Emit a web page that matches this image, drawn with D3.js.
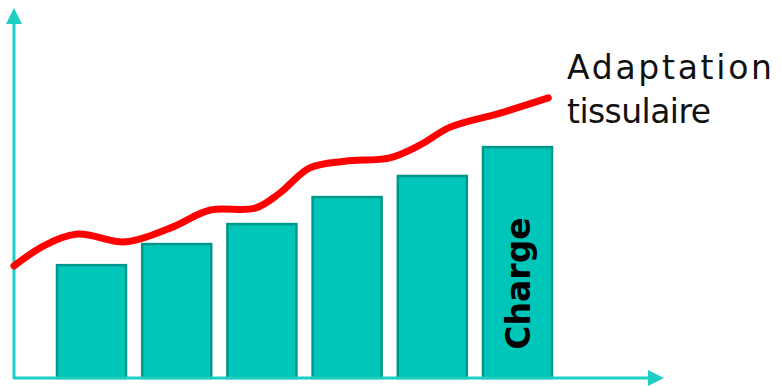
<!DOCTYPE html>
<html>
<head>
<meta charset="utf-8">
<script src="https://cdn.jsdelivr.net/npm/d3@7"></script>
<style>
  body { margin: 0; background: #fff; }
  svg { display: block; }
</style>
</head>
<body>
<div id="chart"></div>
<script>
// bar heights (relative units, 0 = x axis, 100 = top of y axis)
const categories = ['1', '2', '3', '4', '5', '6'];
const charge = [30.5, 36.2, 41.6, 48.9, 54.6, 62.4];

// tissue adaptation curve: x in 0..100 along the x axis, y in same units as bars
const adaptX = [0, 4.8, 9.8, 17.1, 24, 30.2, 37.1, 40.9, 45.5, 50.9, 57.8, 62.5, 67.1, 74.8, 82.2];
const adaptY = [30.3, 35.9, 38.9, 36.8, 40.5, 45.4, 45.9, 50, 56.8, 58.6, 59.5, 63, 67.8, 71.6, 75.7];

const labelLines = ['Adaptation', 'tissulaire'];
const labelWidths = [205, 144];
const barLabel = 'Charge';

const width = 782;
const height = 386;
const axisColor = '#1dcfc3';

const svg = d3.select('#chart')
    .append('svg')
    .attr('width', width)
    .attr('height', height);

const x = d3.scaleBand()
    .domain(categories)
    .range([57, 552])
    .paddingInner(0.19)
    .paddingOuter(0);

const xLine = d3.scaleLinear()
    .domain([0, 100])
    .range([14, 664]);

const y = d3.scaleLinear()
    .domain([0, 100])
    .range([378, 8]);

// bars
svg.selectAll('rect.bar')
    .data(charge)
    .join('rect')
    .attr('class', 'bar')
    .attr('x', (d, i) => x(categories[i]))
    .attr('y', d => y(d))
    .attr('width', x.bandwidth())
    .attr('height', d => y(0) - y(d))
    .attr('fill', '#00c6b9')
    .attr('stroke', '#00978b')
    .attr('stroke-width', 2.5);

// axes with arrowheads
svg.append('line')
    .attr('x1', xLine(0)).attr('y1', y(0) + 1)
    .attr('x2', xLine(0)).attr('y2', y(100) + 14)
    .attr('stroke', axisColor)
    .attr('stroke-width', 3);

svg.append('path')
    .attr('d', `M${xLine(0)},${y(100)} L${xLine(0) + 8},${y(100) + 16} L${xLine(0) - 8},${y(100) + 16} Z`)
    .attr('fill', axisColor);

svg.append('line')
    .attr('x1', xLine(0) - 1).attr('y1', y(0))
    .attr('x2', xLine(100) - 14).attr('y2', y(0))
    .attr('stroke', axisColor)
    .attr('stroke-width', 3);

svg.append('path')
    .attr('d', `M${xLine(100)},${y(0)} L${xLine(100) - 16},${y(0) - 8} L${xLine(100) - 16},${y(0) + 8} Z`)
    .attr('fill', axisColor);

// adaptation curve
const line = d3.line()
    .x(d => xLine(d[0]))
    .y(d => y(d[1]))
    .curve(d3.curveCatmullRom.alpha(0.5));

svg.append('path')
    .datum(adaptX.map((v, i) => [v, adaptY[i]]))
    .attr('d', line)
    .attr('fill', 'none')
    .attr('stroke', '#ff0000')
    .attr('stroke-width', 7)
    .attr('stroke-linecap', 'round');

// label for the curve
svg.selectAll('text.curve-label')
    .data(labelLines)
    .join('text')
    .attr('class', 'curve-label')
    .attr('x', 567)
    .attr('y', (d, i) => 79 + i * 44)
    .attr('font-family', '"DejaVu Sans", sans-serif')
    .attr('font-size', 33)
    .attr('fill', '#111')
    .attr('textLength', (d, i) => labelWidths[i])
    .attr('lengthAdjust', 'spacing')
    .text(d => d);

// rotated label in last bar
const last = categories[categories.length - 1];
svg.append('text')
    .attr('transform', `translate(${x(last) + x.bandwidth() / 2 + 13},${y(0) - 94.5}) rotate(-90)`)
    .attr('text-anchor', 'middle')
    .attr('font-family', '"DejaVu Sans", sans-serif')
    .attr('font-weight', 'bold')
    .attr('font-size', 33)
    .attr('fill', '#000')
    .text(barLabel);
</script>
</body>
</html>
